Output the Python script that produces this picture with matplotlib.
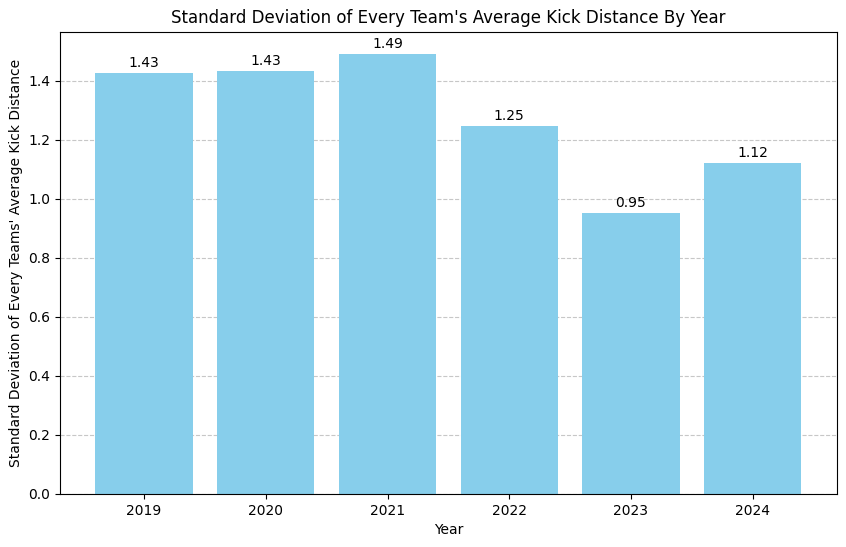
import matplotlib.pyplot as plt

years = ['2019', '2020', '2021', '2022', '2023', '2024']
std_devs = [1.427, 1.431, 1.491, 1.247, 0.953, 1.122]

fig, ax = plt.subplots(figsize=(8.46, 5.47), dpi=100)
fig.subplots_adjust(left=0.071, right=0.989, top=0.942, bottom=0.097)

bars = ax.bar(years, std_devs, color='skyblue')
for b, v in zip(bars, std_devs):
    ax.text(b.get_x() + b.get_width() / 2, v + 0.01, f'{v:.2f}',
            ha='center', va='bottom', fontsize=10)

ax.set_xlabel('Year')
ax.set_ylabel("Standard Deviation of Every Teams' Average Kick Distance")
ax.set_title("Standard Deviation of Every Team's Average Kick Distance By Year")
ax.grid(axis='y', linestyle='--', alpha=0.7)
ax.set_axisbelow(True)

plt.savefig('out.png')
